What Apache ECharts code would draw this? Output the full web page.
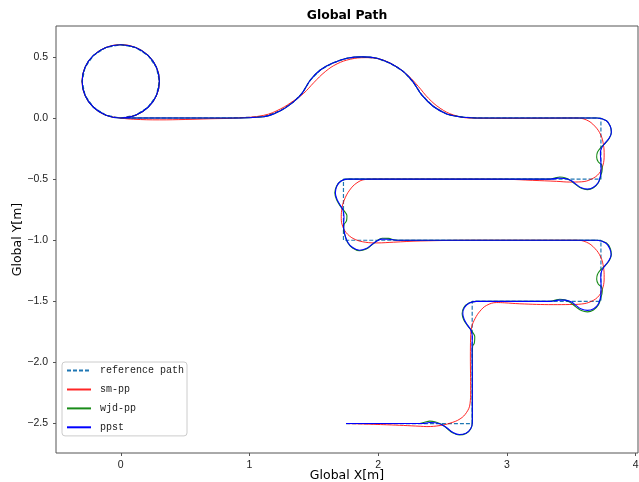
<!DOCTYPE html>
<html>
<head>
<meta charset="utf-8">
<script src="https://cdn.jsdelivr.net/npm/echarts@6/dist/echarts.min.js"></script>
<style>html,body{margin:0;padding:0;background:#fff}#c{width:639px;height:482px}</style>
</head>
<body>
<div id="c"></div>
<script>
var seriesNames = ['reference path', 'sm-pp', 'wjd-pp', 'ppst'];
var xTicks = [0, 1, 2, 3, 4];
var yTicks = [-2.5, -2.0, -1.5, -1.0, -0.5, 0.0, 0.5];

var circlePts = [[0,0],[0.115,0.023],[0.212,0.088],[0.277,0.185],[0.3,0.3],[0.277,0.415],[0.212,0.512],[0.115,0.577],[0,0.6],[-0.115,0.577],[-0.212,0.512],[-0.277,0.415],[-0.3,0.3],[-0.277,0.185],[-0.212,0.088],[-0.115,0.023],[0,0]];

var humpPts = [[0.5,0],[0.853,0.0],[1.111,0.011],[1.240,0.060],[1.344,0.134],[1.408,0.202],[1.473,0.311],[1.550,0.393],[1.654,0.453],[1.757,0.489],[1.874,0.500],[1.990,0.489],[2.093,0.448],[2.196,0.380],[2.269,0.298],[2.338,0.189],[2.429,0.094],[2.532,0.033],[2.661,0.006],[2.791,0.0]];

var refPath = circlePts.concat(humpPts).concat([[3.73,0],[3.73,-0.5],[1.73,-0.5],[1.73,-1.0],[3.73,-1.0],[3.73,-1.5],[2.73,-1.5],[2.73,-2.5],[1.75,-2.5]]);

var smPath = circlePts.concat([[0.1,-0.01],[0.3,-0.015],[0.5,-0.012],[0.7,-0.006],[0.9,0.0],[1.111,0.022],[1.240,0.074],[1.344,0.142],[1.421,0.202],[1.499,0.289],[1.589,0.380],[1.680,0.443],[1.783,0.481],[1.899,0.494],[2.016,0.481],[2.132,0.426],[2.235,0.344],[2.313,0.257],[2.390,0.162],[2.481,0.080],[2.584,0.025],[2.713,0.0],[3.0,-0.003],[3.3,-0.002],[3.540,0.0],[3.618,-0.016],[3.682,-0.066],[3.729,-0.139],[3.750,-0.221],[3.755,-0.303],[3.746,-0.385],[3.716,-0.453],[3.656,-0.500],[3.578,-0.522],[3.488,-0.524],[3.385,-0.518],[3.2,-0.51],[3.0,-0.502],[2.5,-0.5],[2.0,-0.5],[1.900,-0.503],[1.835,-0.530],[1.778,-0.590],[1.736,-0.672],[1.716,-0.754],[1.713,-0.822],[1.726,-0.891],[1.762,-0.951],[1.822,-0.994],[1.899,-1.016],[1.990,-1.022],[2.119,-1.016],[2.326,-1.006],[2.8,-1.0],[3.4,-1.0],[3.540,-1.0],[3.618,-1.016],[3.682,-1.066],[3.729,-1.139],[3.750,-1.221],[3.755,-1.303],[3.746,-1.385],[3.716,-1.453],[3.656,-1.500],[3.578,-1.522],[3.488,-1.526],[3.36,-1.527],[3.10,-1.52],[2.98,-1.512],[2.92,-1.51],[2.842,-1.533],[2.791,-1.58],[2.752,-1.642],[2.726,-1.711],[2.718,-1.792],[2.716,-1.956],[2.718,-2.23],[2.713,-2.339],[2.687,-2.408],[2.636,-2.462],[2.558,-2.497],[2.481,-2.516],[2.378,-2.525],[2.326,-2.522],[2.067,-2.51],[1.752,-2.5]]);

var wjdPath = circlePts.concat(humpPts).concat([[3.3,0],[3.70,0],[3.773,-0.022],[3.804,-0.071],[3.811,-0.117],[3.795,-0.166],[3.765,-0.205],[3.73,-0.24],[3.703,-0.28],[3.697,-0.32],[3.710,-0.36],[3.737,-0.385],[3.740,-0.42],[3.728,-0.475],[3.710,-0.530],[3.672,-0.571],[3.625,-0.586],[3.578,-0.575],[3.535,-0.545],[3.495,-0.512],[3.450,-0.488],[3.41,-0.483],[3.37,-0.492],[3.32,-0.5],[2.5,-0.5],[1.76,-0.5],[1.708,-0.518],[1.676,-0.558],[1.663,-0.612],[1.676,-0.668],[1.705,-0.72],[1.735,-0.76],[1.757,-0.80],[1.754,-0.84],[1.735,-0.87],[1.731,-0.91],[1.739,-0.95],[1.762,-1.018],[1.801,-1.064],[1.855,-1.086],[1.907,-1.072],[1.951,-1.038],[1.990,-1.004],[2.030,-0.984],[2.08,-0.985],[2.13,-0.998],[2.2,-1.0],[3.0,-1.0],[3.70,-1.0],[3.773,-1.022],[3.804,-1.071],[3.811,-1.117],[3.795,-1.166],[3.765,-1.205],[3.73,-1.24],[3.703,-1.28],[3.697,-1.32],[3.710,-1.36],[3.737,-1.385],[3.740,-1.42],[3.728,-1.475],[3.710,-1.530],[3.672,-1.571],[3.625,-1.586],[3.578,-1.575],[3.535,-1.545],[3.495,-1.512],[3.450,-1.488],[3.41,-1.483],[3.37,-1.492],[3.32,-1.5],[3.0,-1.5],[2.76,-1.5],[2.705,-1.514],[2.664,-1.552],[2.652,-1.601],[2.665,-1.652],[2.695,-1.70],[2.728,-1.745],[2.750,-1.79],[2.747,-1.84],[2.733,-1.87],[2.731,-1.95],[2.731,-2.2],[2.731,-2.489],[2.718,-2.545],[2.682,-2.582],[2.630,-2.594],[2.578,-2.575],[2.532,-2.538],[2.49,-2.505],[2.44,-2.485],[2.40,-2.480],[2.36,-2.49],[2.32,-2.5],[1.75,-2.5]]);

var ppstPath = circlePts.concat(humpPts).concat([[3.3,0],[3.70,0],[3.773,-0.022],[3.804,-0.071],[3.811,-0.117],[3.793,-0.166],[3.760,-0.207],[3.734,-0.248],[3.726,-0.289],[3.729,-0.344],[3.731,-0.412],[3.726,-0.475],[3.708,-0.530],[3.669,-0.568],[3.625,-0.582],[3.578,-0.571],[3.535,-0.541],[3.501,-0.514],[3.450,-0.495],[3.40,-0.492],[3.34,-0.5],[2.5,-0.5],[1.76,-0.5],[1.711,-0.516],[1.680,-0.555],[1.667,-0.612],[1.680,-0.666],[1.705,-0.713],[1.726,-0.754],[1.734,-0.809],[1.731,-0.877],[1.739,-0.945],[1.762,-1.014],[1.801,-1.060],[1.855,-1.082],[1.907,-1.068],[1.951,-1.035],[1.990,-1.006],[2.029,-0.991],[2.080,-0.992],[2.145,-1.0],[3.0,-1.0],[3.70,-1.0],[3.767,-1.022],[3.798,-1.068],[3.809,-1.117],[3.793,-1.164],[3.760,-1.210],[3.736,-1.251],[3.729,-1.300],[3.731,-1.369],[3.729,-1.451],[3.711,-1.519],[3.674,-1.560],[3.625,-1.574],[3.578,-1.563],[3.535,-1.533],[3.501,-1.506],[3.450,-1.490],[3.40,-1.490],[3.34,-1.5],[3.0,-1.5],[2.76,-1.5],[2.708,-1.514],[2.669,-1.552],[2.657,-1.601],[2.669,-1.650],[2.695,-1.697],[2.721,-1.738],[2.731,-1.792],[2.729,-1.874],[2.731,-2.093],[2.731,-2.366],[2.731,-2.489],[2.718,-2.543],[2.682,-2.579],[2.630,-2.590],[2.578,-2.571],[2.532,-2.535],[2.492,-2.508],[2.442,-2.494],[2.40,-2.492],[2.35,-2.5],[1.75,-2.5]]);

var chart = echarts.init(document.getElementById('c'), null, {renderer: 'canvas'});
function yFmt(v){ return (v < 0 ? '\u2212' : '') + Math.abs(v).toFixed(1); }
var tickFont = {fontFamily: 'Liberation Sans', fontSize: 10.5, color: '#222'};
chart.setOption({
  animation: false,
  backgroundColor: '#fff',
  title: {
    text: 'Global Path', left: 347, top: 10, padding: 0, textAlign: 'center',
    textStyle: {fontFamily: 'DejaVu Sans', fontWeight: 'bold', fontSize: 12.4, color: '#000'}
  },
  grid: {left: 56, right: 1, top: 26, bottom: 29, show: true, borderColor: '#555', borderWidth: 1,
         backgroundColor: 'transparent', containLabel: false, outerBoundsMode: 'none'},
  legend: {
    orient: 'vertical', left: 62, top: 362, padding: [3, 3, 3, 4],
    itemWidth: 24, itemHeight: 14, itemGap: 7.7,
    itemStyle: {opacity: 0},
    backgroundColor: 'rgba(255,255,255,0.8)', borderColor: '#ccc', borderWidth: 1, borderRadius: 3,
    textStyle: {fontFamily: 'Liberation Mono', fontSize: 10, color: '#222', padding: [0, 0, 0, 4]},
    data: seriesNames
  },
  xAxis: {
    type: 'value', min: -0.503, max: 4.018,
    name: 'Global X[m]', nameLocation: 'middle', nameGap: 16, nameMoveOverlap: false,
    nameTextStyle: {fontFamily: 'DejaVu Sans', fontSize: 12.5, color: '#000'},
    axisLine: {show: false, onZero: false},
    axisTick: {show: true, length: 3, lineStyle: {color: '#555'}, customValues: xTicks},
    axisLabel: Object.assign({margin: 7, customValues: xTicks, formatter: function(v){ return String(v); }}, tickFont),
    splitLine: {show: false}
  },
  yAxis: {
    type: 'value', min: -2.741, max: 0.753,
    name: 'Global Y[m]', nameLocation: 'middle', nameGap: 32, nameRotate: 90, nameMoveOverlap: false,
    nameTextStyle: {fontFamily: 'DejaVu Sans', fontSize: 12.5, color: '#000'},
    axisLine: {show: false, onZero: false},
    axisTick: {show: true, length: 3, lineStyle: {color: '#555'}, customValues: yTicks},
    axisLabel: Object.assign({margin: 8, customValues: yTicks, formatter: yFmt}, tickFont),
    splitLine: {show: false}
  },
  series: [
    {name: seriesNames[0], type: 'line', data: refPath, symbol: 'none', smooth: false,
     lineStyle: {color: '#1f77b4', width: 1.2, type: [4, 2]}, itemStyle: {color: '#1f77b4'}, z: 2},
    {name: seriesNames[1], type: 'line', data: smPath, symbol: 'none', smooth: 0.4,
     lineStyle: {color: '#ff0000', width: 1, opacity: 0.85}, itemStyle: {color: '#ff0000'}, z: 3},
    {name: seriesNames[2], type: 'line', data: wjdPath, symbol: 'none', smooth: 0.4,
     lineStyle: {color: '#008000', width: 1.1, opacity: 0.9}, itemStyle: {color: '#008000'}, z: 4},
    {name: seriesNames[3], type: 'line', data: ppstPath, symbol: 'none', smooth: 0.4,
     lineStyle: {color: '#0000ff', width: 1.1, opacity: 1}, itemStyle: {color: '#0000ff'}, z: 5}
  ]
});
</script>
</body>
</html>
